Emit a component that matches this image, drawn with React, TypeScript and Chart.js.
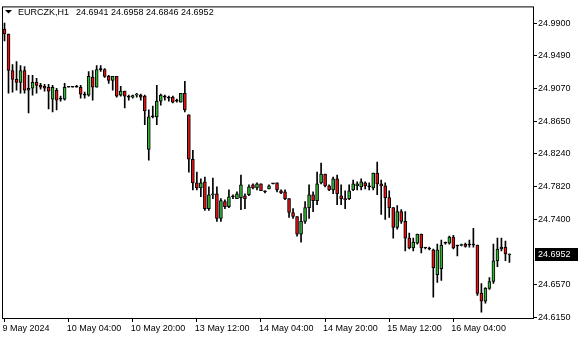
import React, { useEffect, useRef } from "react";
import { Chart, registerables } from "chart.js";

Chart.register(...registerables);

const symbolTitle = "EURCZK,H1";

// OHLC values of the H1 bars, first bar = 9 May 2024 12:00
const opens = [
  24.9824, 24.9762, 24.9296, 24.9183, 24.9145, 24.9296, 24.9044, 24.9069, 24.9145, 24.9107,
  24.9095, 24.9082, 24.8931, 24.9044, 24.8931, 24.8931, 24.9082, 24.9082, 24.9082, 24.9082,
  24.8981, 24.8981, 24.9208, 24.9082, 24.9308, 24.9308, 24.922, 24.917, 24.922, 24.8981,
  24.9032, 24.8956, 24.8956, 24.8981, 24.8981, 24.8969, 24.8289, 24.8704, 24.8704, 24.8906,
  24.8956, 24.8944, 24.8956, 24.8906, 24.8893, 24.9006, 24.873, 24.8163, 24.7861, 24.7798,
  24.7874, 24.7534, 24.771, 24.7723, 24.7408, 24.7622, 24.7559, 24.7685, 24.766, 24.7673,
  24.7698, 24.771, 24.7836, 24.7798, 24.7849, 24.7748, 24.7786, 24.7849, 24.7861, 24.7761,
  24.7748, 24.766, 24.7484, 24.7433, 24.7207, 24.7371, 24.7547, 24.771, 24.7635, 24.7861,
  24.7975, 24.7824, 24.7773, 24.7912, 24.7698, 24.766, 24.766, 24.7773, 24.7824, 24.7811,
  24.7861, 24.7811, 24.7798, 24.7987, 24.7849, 24.7824, 24.7673, 24.7547, 24.7295, 24.7496,
  24.7371, 24.7157, 24.7031, 24.7094, 24.7207, 24.7031, 24.7018, 24.7006, 24.6691, 24.6767,
  24.7094, 24.7094, 24.7169, 24.7056, 24.7063, 24.7081, 24.7069, 24.7069, 24.7069, 24.6452,
  24.6351, 24.6515, 24.6603, 24.6867, 24.7018, 24.7043, 24.6941,
];
const highs = [
  24.99, 24.9762, 24.9371, 24.9409, 24.9359, 24.9346, 24.9233, 24.9233, 24.9195, 24.9132,
  24.912, 24.912, 24.9107, 24.9069, 24.8969, 24.9132, 24.9082, 24.9082, 24.9107, 24.9107,
  24.9019, 24.9283, 24.9296, 24.9359, 24.9359, 24.9321, 24.9233, 24.922, 24.922, 24.9095,
  24.9032, 24.8981, 24.8981, 24.9006, 24.8994, 24.8981, 24.8793, 24.8843, 24.9107, 24.8994,
  24.8981, 24.8969, 24.8969, 24.8931, 24.9006, 24.9157, 24.873, 24.8277, 24.8, 24.7912,
  24.7937, 24.7811, 24.7924, 24.7811, 24.766, 24.7647, 24.7773, 24.771, 24.7748, 24.7962,
  24.7723, 24.7836, 24.7849, 24.7861, 24.7849, 24.7761, 24.7836, 24.7849, 24.7861, 24.7773,
  24.7773, 24.766, 24.7534, 24.7433, 24.7471, 24.7622, 24.7836, 24.7748, 24.8, 24.8113,
  24.7975, 24.7836, 24.7937, 24.7962, 24.7836, 24.7761, 24.7836, 24.7899, 24.7874, 24.7912,
  24.7874, 24.7861, 24.7987, 24.8126, 24.7899, 24.7861, 24.7761, 24.7547, 24.7572, 24.7521,
  24.7496, 24.722, 24.7157, 24.7207, 24.7207, 24.7031, 24.7043, 24.7018, 24.7081, 24.7131,
  24.7106, 24.7182, 24.7194, 24.7069, 24.7081, 24.7094, 24.7131, 24.7282, 24.7069, 24.6578,
  24.6527, 24.6653, 24.7081, 24.7157, 24.7157, 24.7119, 24.6958,
];
const lows = [
  24.9673, 24.9006, 24.9019, 24.9044, 24.9006, 24.9006, 24.8755, 24.8981, 24.9006, 24.9057,
  24.9032, 24.8805, 24.8767, 24.8793, 24.8906, 24.8918, 24.9082, 24.9082, 24.9082, 24.8944,
  24.8944, 24.8969, 24.8918, 24.9082, 24.9283, 24.9208, 24.9132, 24.9044, 24.8956, 24.8969,
  24.8818, 24.8918, 24.8944, 24.8956, 24.8918, 24.8604, 24.8151, 24.8692, 24.8604, 24.8855,
  24.8918, 24.8906, 24.8881, 24.8893, 24.8893, 24.8767, 24.8, 24.7773, 24.7773, 24.7685,
  24.7509, 24.7509, 24.766, 24.7371, 24.7371, 24.7534, 24.7547, 24.766, 24.766, 24.7521,
  24.7534, 24.7698, 24.7786, 24.7773, 24.7761, 24.7735, 24.7786, 24.7849, 24.7748, 24.7723,
  24.7647, 24.7421, 24.7408, 24.7182, 24.7106, 24.7345, 24.7408, 24.7496, 24.7584, 24.7849,
  24.7811, 24.7761, 24.7723, 24.7584, 24.7584, 24.7534, 24.7647, 24.7761, 24.7773, 24.7773,
  24.7786, 24.7773, 24.7773, 24.771, 24.7459, 24.7396, 24.7421, 24.7157, 24.727, 24.7345,
  24.6993, 24.7018, 24.6993, 24.7081, 24.6968, 24.7018, 24.7006, 24.6402, 24.6591, 24.6616,
  24.7081, 24.7081, 24.7018, 24.693, 24.7056, 24.7043, 24.7043, 24.7043, 24.6427, 24.6213,
  24.6326, 24.6502, 24.6578, 24.6792, 24.6993, 24.687, 24.6846,
];
const closes = [
  24.9762, 24.9296, 24.9183, 24.9145, 24.9296, 24.9044, 24.9069, 24.9145, 24.9107, 24.9082,
  24.9069, 24.9032, 24.9082, 24.8918, 24.8931, 24.9082, 24.9082, 24.9082, 24.9082, 24.8994,
  24.8981, 24.922, 24.9082, 24.9308, 24.9308, 24.922, 24.917, 24.922, 24.8969, 24.9032,
  24.8969, 24.8956, 24.8975, 24.8988, 24.8956, 24.878, 24.8704, 24.8704, 24.8906, 24.8981,
  24.8956, 24.8944, 24.8893, 24.8906, 24.9006, 24.8793, 24.8163, 24.7861, 24.7798, 24.7861,
  24.7534, 24.771, 24.7723, 24.7408, 24.7635, 24.7559, 24.7685, 24.7685, 24.7723, 24.7836,
  24.766, 24.7811, 24.7798, 24.7849, 24.7761, 24.7748, 24.7824, 24.7849, 24.7773, 24.7735,
  24.766, 24.7484, 24.7433, 24.7207, 24.7371, 24.7547, 24.771, 24.7635, 24.7849, 24.7975,
  24.7824, 24.7773, 24.7912, 24.7723, 24.766, 24.7647, 24.7761, 24.7849, 24.7849, 24.7874,
  24.7824, 24.7811, 24.7987, 24.7849, 24.7824, 24.7673, 24.7547, 24.7295, 24.7496, 24.7371,
  24.7157, 24.7031, 24.7106, 24.7207, 24.7031, 24.7031, 24.7018, 24.6779, 24.7006, 24.7069,
  24.7094, 24.7169, 24.7031, 24.7056, 24.7069, 24.705, 24.7069, 24.7069, 24.6452, 24.6351,
  24.6515, 24.6603, 24.6867, 24.7018, 24.7043, 24.6955, 24.6952,
];

const xTickLabels = [
  "9 May 2024",
  "10 May 04:00",
  "10 May 20:00",
  "13 May 12:00",
  "14 May 04:00",
  "14 May 20:00",
  "15 May 12:00",
  "16 May 04:00",
];
const barsPerXTick = 16;
const yTickValues = [24.99, 24.949, 24.907, 24.865, 24.824, 24.782, 24.74, 24.657, 24.615];
const yMin = 24.61248;
const yMax = 25.01139;
const xMin = -0.625;
const xMax = 132.125;

const bullColor = "#36b336";
const bearColor = "#e01414";
const FONT = '"Liberation Sans", Arial, sans-serif';

const decorPlugin = {
  id: "mtDecor",
  afterDraw(chart: any) {
    const { ctx, chartArea: a, scales } = chart;
    ctx.save();
    ctx.strokeStyle = "#000";
    ctx.lineWidth = 1;
    ctx.strokeRect(a.left + 0.5, a.top + 0.5, a.right - a.left - 1, a.bottom - a.top - 1);

    // header
    ctx.fillStyle = "#000";
    ctx.beginPath();
    ctx.moveTo(5, 10);
    ctx.lineTo(12, 10);
    ctx.lineTo(8.5, 13.5);
    ctx.closePath();
    ctx.fill();
    ctx.font = `9px ${FONT}`;
    ctx.textBaseline = "alphabetic";
    ctx.textAlign = "left";
    ctx.fillText(symbolTitle, 18, 15);
    const n = closes.length - 1;
    const ohlc = [opens[n], highs[n], lows[n], closes[n]].map((v) => v.toFixed(4)).join(" ");
    ctx.fillText(ohlc, 76, 15);

    // current price label
    const last = closes[n];
    const py = Math.round(scales.y.getPixelForValue(last));
    ctx.fillStyle = "#000";
    ctx.fillRect(a.right + 1, py - 6, 43, 13);
    ctx.fillStyle = "#fff";
    ctx.textBaseline = "middle";
    ctx.fillText(last.toFixed(4), a.right + 4, py + 0.5);
    ctx.restore();
  },
};

export default function App() {
  const ref = useRef<HTMLCanvasElement | null>(null);

  useEffect(() => {
    document.body.style.margin = "0";
    const canvas = ref.current;
    if (!canvas) return;
    const idx = opens.map((_, i) => i);
    const chart = new Chart(canvas, {
      type: "bar",
      data: {
        datasets: [
          {
            label: "wick",
            data: idx.map((i) => ({ x: i, y: [lows[i], highs[i]] })) as any,
            backgroundColor: "#000",
            borderWidth: 0,
            barThickness: 1,
            grouped: false,
            order: 2,
          },
          {
            label: "body",
            data: idx.map((i) => ({ x: i, y: [opens[i], closes[i]] })) as any,
            backgroundColor: (c: any) => {
              const i = c.dataIndex;
              if (Math.abs(closes[i] - opens[i]) < 1e-7) return "#000";
              return closes[i] > opens[i] ? bullColor : bearColor;
            },
            borderColor: "#000",
            borderWidth: 1,
            borderSkipped: false,
            barThickness: 3,
            minBarLength: 1,
            grouped: false,
            order: 1,
          },
        ],
      },
      options: {
        animation: false,
        responsive: false,
        devicePixelRatio: 1,
        layout: { padding: { left: 2, top: 2, right: 0, bottom: 0 } },
        plugins: { legend: { display: false }, tooltip: { enabled: false } },
        scales: {
          x: {
            type: "linear",
            min: xMin,
            max: xMax,
            offset: false,
            border: { display: false },
            grid: { display: true, drawOnChartArea: false, drawTicks: true, tickLength: 3, color: "#000", offset: false },
            afterBuildTicks: (scale: any) => {
              scale.ticks = xTickLabels.map((_, k) => ({ value: k * barsPerXTick }));
            },
            afterFit: (scale: any) => {
              scale.height = 21;
            },
            ticks: {
              autoSkip: false,
              maxRotation: 0,
              minRotation: 0,
              align: "start",
              labelOffset: -2,
              padding: 1,
              color: "#000",
              font: { family: FONT, size: 9 },
              callback: (v: any) => xTickLabels[Math.round(Number(v) / barsPerXTick)] ?? "",
            },
          },
          y: {
            type: "linear",
            position: "right",
            min: yMin,
            max: yMax,
            border: { display: false },
            grid: { display: true, drawOnChartArea: false, drawTicks: true, tickLength: 3, color: "#000" },
            afterBuildTicks: (scale: any) => {
              scale.ticks = yTickValues.map((v) => ({ value: v }));
            },
            afterFit: (scale: any) => {
              scale.width = 46;
            },
            ticks: {
              autoSkip: false,
              padding: 1,
              color: "#000",
              font: { family: FONT, size: 9 },
              callback: (v: any) => Number(v).toFixed(4),
            },
          },
        },
      },
      plugins: [decorPlugin],
    });
    return () => chart.destroy();
  }, []);

  return (
    <div style={{ width: 580, height: 340, background: "#fff" }}>
      <canvas ref={ref} width={580} height={340} style={{ display: "block" }} />
    </div>
  );
}
